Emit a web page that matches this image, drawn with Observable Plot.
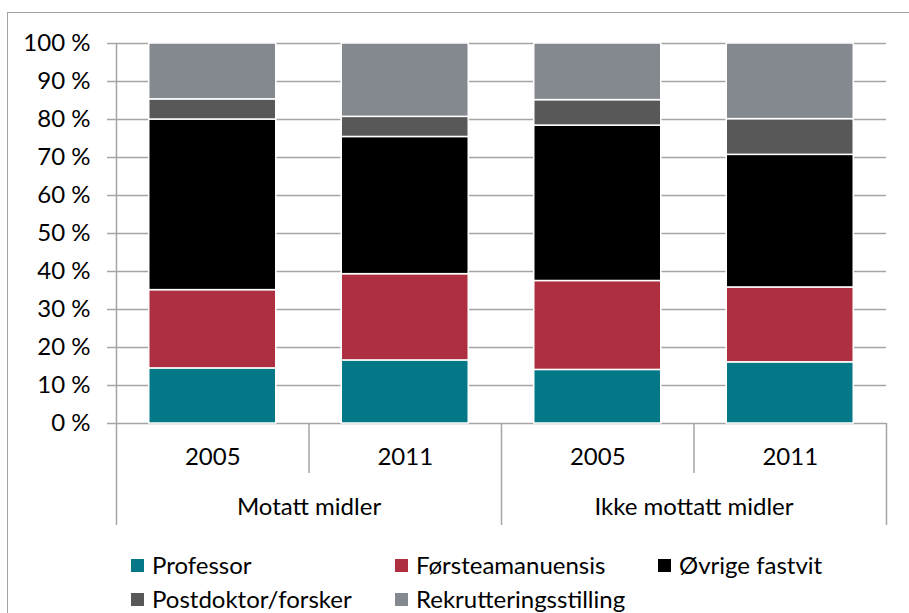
<!DOCTYPE html>
<html><head><meta charset="utf-8">
<script src="https://cdn.jsdelivr.net/npm/d3@7"></script>
<script src="https://cdn.jsdelivr.net/npm/@observablehq/plot@0.6"></script>
<style>
body{margin:0;background:#fff;font-family:Lato,sans-serif;}
#wrap{position:relative;width:909px;height:613px;overflow:hidden;}
#frame{position:absolute;left:6.5px;top:12px;width:1000px;height:1000px;border-left:1.5px solid #a3a3a3;border-top:1.5px solid #a3a3a3;}
#chart{position:absolute;left:0;top:0;}
#legend{position:absolute;left:131px;top:554px;display:grid;grid-template-columns:264px 263px 220px;row-gap:12px;font-size:24px;line-height:22px;color:#000;font-family:Lato,sans-serif;}
.item{display:flex;align-items:center;height:22px;white-space:nowrap;}
.sw{width:13px;height:13px;margin-right:8px;flex:none;}
</style></head><body>
<div id="wrap"><div id="frame"></div><div id="chart"></div><div id="legend"></div></div>
<script>
const groups = ["Motatt midler", "Ikke mottatt midler"];
const years = ["2005", "2011", "2005", "2011"];
const series = ["Professor", "Førsteamanuensis", "Øvrige fastvit", "Postdoktor/forsker", "Rekrutteringsstilling"];
const professor = [14.5, 16.6, 14.1, 16.1];
const forsteamanuensis = [20.6, 22.7, 23.4, 19.7];
const ovrigeFastvit = [44.9, 36.1, 40.9, 34.9];
const postdoktor = [5.3, 5.3, 6.7, 9.4];
const rekruttering = [14.7, 19.3, 14.9, 19.9];
const colors = ["#057887", "#AE3040", "#000000", "#585858", "#84888F"];
const yTicks = [0, 10, 20, 30, 40, 50, 60, 70, 80, 90, 100];

const values = [professor, forsteamanuensis, ovrigeFastvit, postdoktor, rekruttering];
const rows = [];
series.forEach((s, k) => values[k].forEach((v, i) => rows.push({i, series: s, value: v})));
const bandIdx = years.map((d, i) => i);
const minorSeps = [1, 3];
const majorSeps = [2, 4];
const gridColor = "#a5a5a5";

const chart = Plot.plot({
  width: 909, height: 540,
  marginLeft: 116, marginRight: 23, marginTop: 43, marginBottom: 117,
  style: {fontFamily: "Lato, sans-serif", fontSize: "24px", color: "#000", background: "transparent", overflow: "visible"},
  x: {domain: [0, years.length], axis: null},
  y: {domain: [0, 100], axis: null},
  color: {domain: series, range: colors},
  marks: [
    Plot.ruleY(yTicks, {y: d => d, stroke: gridColor, strokeWidth: 1.5, insetLeft: -9}),
    Plot.rectY(rows, {x1: "i", x2: d => d.i + 1, y: "value", fill: "series", stroke: "white", strokeWidth: 1.5, insetLeft: 32.75, insetRight: 32.75}),
    Plot.ruleX([0], {x: d => d, stroke: gridColor, strokeWidth: 1.5, insetBottom: -102}),
    Plot.ruleX(minorSeps, {x: d => d, y1: 0, y2: 0, stroke: gridColor, strokeWidth: 1.5, insetBottom: -50}),
    Plot.ruleX(majorSeps, {x: d => d, y1: 0, y2: 0, stroke: gridColor, strokeWidth: 1.5, insetBottom: -102}),
    Plot.text(yTicks, {y: d => d, text: d => d + " %", frameAnchor: "left", textAnchor: "end", dx: -26, fill: "#000"}),
    Plot.text(bandIdx, {x: d => d + 0.5, y: 0, dy: 34, text: d => years[d], fill: "#000"}),
    Plot.text(groups, {x: (d, i) => i * 2 + 1, y: 0, dy: 84, text: d => d, fill: "#000"})
  ]
});
document.getElementById("chart").appendChild(chart);

const legend = document.getElementById("legend");
series.forEach((s, k) => {
  const item = document.createElement("div");
  item.className = "item";
  const sw = document.createElement("span");
  sw.className = "sw";
  sw.style.background = colors[k];
  const t = document.createElement("span");
  t.textContent = s;
  item.appendChild(sw); item.appendChild(t);
  legend.appendChild(item);
});
</script>
</body></html>
